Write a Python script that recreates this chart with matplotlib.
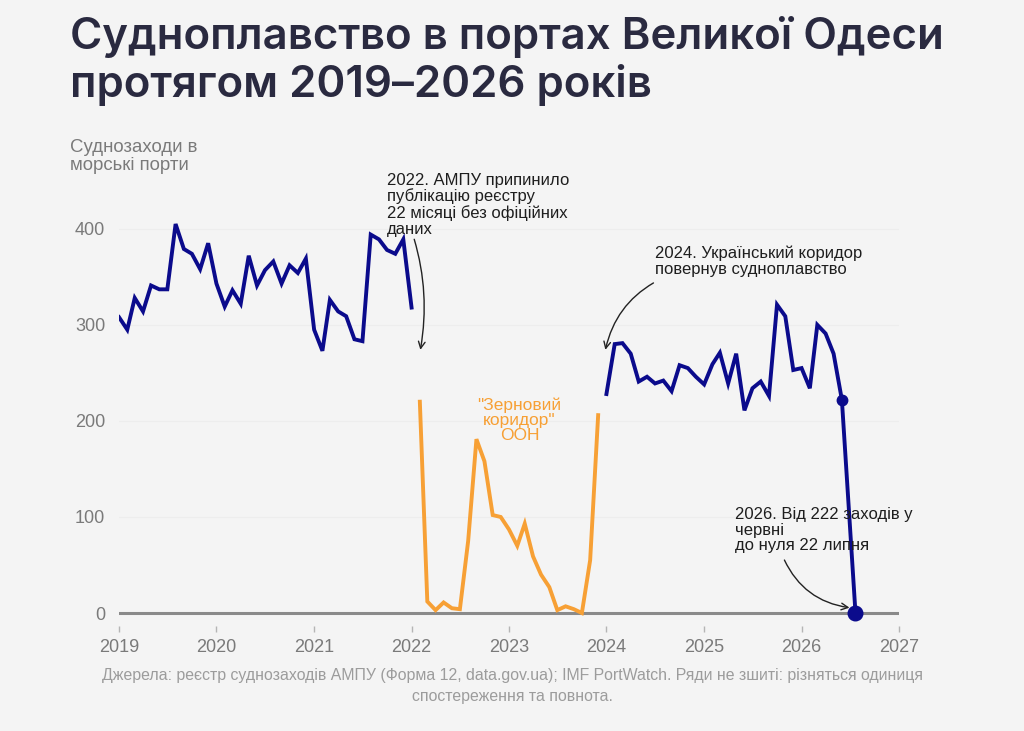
import matplotlib
matplotlib.use("Agg")
import matplotlib.pyplot as plt
import matplotlib.dates as mdates
import pandas as pd

# Дані
ampu_start = "2019-01-01"
ampu_calls = [308, 295, 328, 314, 341, 337, 337, 405, 379, 374, 358, 385,
              343, 319, 336, 322, 372, 341, 357, 366, 343, 362, 354, 369,
              295, 273, 326, 314, 309, 285, 283, 394, 389, 378, 374, 389,
              318]

grain_start = "2022-02-01"
grain_calls = [220, 12, 3, 11, 5, 4, 75, 181, 158, 102, 100,
               87, 70, 93, 59, 40, 27, 3, 7, 4, 0, 55, 206]

corridor_start = "2024-01-01"
corridor_calls = [228, 280, 281, 270, 241, 246, 239, 242, 231, 258, 255, 246,
                  238, 259, 271, 239, 270, 211, 234, 241, 226, 321, 309, 253,
                  255, 234, 300, 291, 270, 222]
end_date = "2026-07-22"
end_value = 0

year_ticks = list(range(2019, 2028))
y_ticks = [0, 100, 200, 300, 400]

BG = "#f4f4f4"
NAVY = "#0b0b8c"
ORANGE = "#f7a035"
GREY = "#7a7a7a"

plt.rcParams["font.family"] = ["Liberation Sans", "DejaVu Sans"]

x1 = pd.date_range(ampu_start, periods=len(ampu_calls), freq="MS")
x2 = pd.date_range(grain_start, periods=len(grain_calls), freq="MS")
x3 = pd.date_range(corridor_start, periods=len(corridor_calls), freq="MS")
x3_full = list(x3) + [pd.Timestamp(end_date)]
y3_full = corridor_calls + [end_value]

fig = plt.figure(figsize=(10.24, 7.31), dpi=100, facecolor=BG)
ax = fig.add_axes([119 / 1024, 1 - 626 / 731, 780 / 1024, 426 / 731])
ax.set_facecolor(BG)

for v in y_ticks[1:]:
    ax.axhline(v, color="#ededed", lw=0.8, zorder=0)
ax.axhline(0, color="#8a8a8a", lw=2.2, zorder=1)

ax.plot(x1, ampu_calls, color=NAVY, lw=2.8, solid_joinstyle="miter", zorder=3)
ax.plot(x2, grain_calls, color=ORANGE, lw=2.8, solid_joinstyle="miter", zorder=3)
ax.plot(x3_full, y3_full, color=NAVY, lw=2.8, solid_joinstyle="miter", zorder=3)
ax.plot([x3[-1]], [corridor_calls[-1]], "o", color=NAVY, ms=7.5, zorder=4)
ax.plot([pd.Timestamp(end_date)], [end_value], "o", color=NAVY, ms=10.5, zorder=4)

ax.set_xlim(pd.Timestamp("2019-01-01"), pd.Timestamp("2027-01-01"))
ax.set_ylim(-13.5, 430)
ax.set_xticks([pd.Timestamp(f"{y}-01-01") for y in year_ticks])
ax.xaxis.set_major_formatter(mdates.DateFormatter("%Y"))
ax.set_yticks(y_ticks)
ax.tick_params(axis="x", colors="#b5b5b5", length=4, width=1, pad=5,
               labelsize=13, labelcolor=GREY)
ax.tick_params(axis="y", length=0, pad=10, labelsize=13, labelcolor=GREY)
for s in ax.spines.values():
    s.set_visible(False)

# Заголовок
title_kw = dict(family=["Inter", "DejaVu Sans"], fontweight="semibold",
                fontsize=31.5, color="#2a2a40", va="baseline", ha="left")
fig.text(70 / 1024, 1 - 49 / 731, "Судноплавство в портах Великої Одеси", **title_kw)
fig.text(70 / 1024, 1 - 97 / 731, "протягом 2019–2026 років", **title_kw)

fig.text(70 / 1024, 1 - 139 / 731, "Суднозаходи в\nморські порти",
         fontsize=13.4, color=GREY, va="top", ha="left", linespacing=1.1)

ann = dict(fontsize=12, color="#1e1e1e", linespacing=1.05)
ax.annotate("2022. АМПУ припинило\nпублікацію реєстру\n22 місяці без офіційних\nданих",
            xy=(pd.Timestamp("2022-02-03"), 274),
            xytext=(pd.Timestamp("2021-10-01"), 392), textcoords="data",
            ha="left", va="bottom",
            arrowprops=dict(arrowstyle="->", color="#222", lw=1,
                            connectionstyle="arc3,rad=-0.15",
                            shrinkA=0, shrinkB=0,
                            relpos=(0.09, 0.42)),
            **ann)
ax.annotate("2024. Український коридор\nповернув судноплавство",
            xy=(pd.Timestamp("2023-12-28"), 274),
            xytext=(pd.Timestamp("2024-07-01"), 350), textcoords="data",
            ha="left", va="bottom",
            arrowprops=dict(arrowstyle="->", color="#222", lw=1,
                            connectionstyle="arc3,rad=0.25",
                            shrinkA=5, shrinkB=0,
                            relpos=(0.05, 0.0)),
            **ann)
ax.annotate("2026. Від 222 заходів у\nчервні\nдо нуля 22 липня",
            xy=(pd.Timestamp("2026-07-15"), 5),
            xytext=(pd.Timestamp("2025-04-28"), 62), textcoords="data",
            ha="left", va="bottom",
            arrowprops=dict(arrowstyle="->", color="#222", lw=1,
                            connectionstyle="arc3,rad=0.3",
                            shrinkA=3, shrinkB=3,
                            relpos=(0.26, 0.0)),
            **ann)

ax.text(pd.Timestamp("2023-02-10"), 201, "\"Зерновий\nкоридор\"\nООН",
        color=ORANGE, fontsize=12.5, ha="center", va="center", linespacing=1.0)

fig.text(0.5, 1 - 686 / 731,
         "Джерела: реєстр суднозаходів АМПУ (Форма 12, data.gov.ua); IMF PortWatch. "
         "Ряди не зшиті: різняться одиниця\nспостереження та повнота.",
         fontsize=11.4, color="#9c9c9c",
         ha="center", va="center", linespacing=1.45)

fig.savefig("out.png", dpi=100, facecolor=BG)
